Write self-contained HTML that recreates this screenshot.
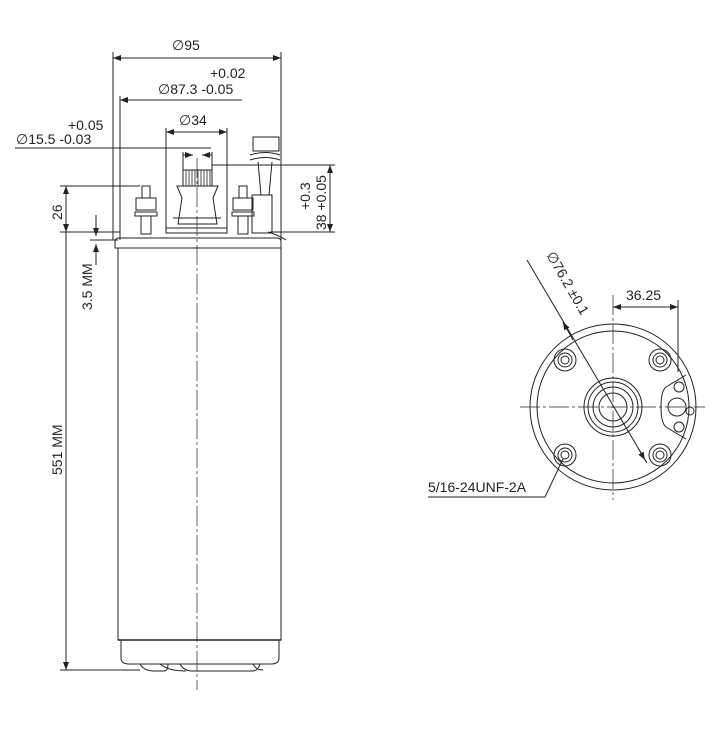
<!DOCTYPE html><html><head><style>body{margin:0;background:#fff}svg{display:block}text{font-family:"Liberation Sans",sans-serif;font-size:14px;fill:#222}</style></head><body>
<svg width="717" height="736" viewBox="0 0 717 736" xmlns="http://www.w3.org/2000/svg">
<defs><marker id="a" markerWidth="8" markerHeight="6" refX="8" refY="3" orient="auto-start-reverse"><path d="M0,0L8,3L0,6z" fill="#222"/></marker></defs>
<g stroke="#222" fill="none" stroke-width="1">
<line x1="113" y1="58" x2="281" y2="58" marker-start="url(#a)" marker-end="url(#a)"/>
<line x1="113" y1="52" x2="113" y2="240"/><line x1="281" y1="52" x2="281" y2="240"/>
<line x1="120" y1="100" x2="242" y2="100" marker-start="url(#a)"/><line x1="120" y1="96" x2="120" y2="240"/>
<line x1="15" y1="148" x2="211" y2="148"/>
<line x1="183" y1="152" x2="183" y2="170"/><line x1="212" y1="152" x2="212" y2="170"/>
<line x1="183" y1="155" x2="193" y2="155" marker-end="url(#a)"/><line x1="212" y1="155" x2="202" y2="155" marker-end="url(#a)"/>
<line x1="166" y1="132" x2="227" y2="132" marker-start="url(#a)" marker-end="url(#a)"/>
<line x1="166" y1="128" x2="166" y2="232"/><line x1="227" y1="128" x2="227" y2="232"/>
<line x1="212" y1="165" x2="335" y2="165"/><line x1="270" y1="232" x2="335" y2="232"/>
<line x1="330" y1="165" x2="330" y2="232" marker-start="url(#a)" marker-end="url(#a)"/>
<line x1="60" y1="186" x2="140" y2="186"/><line x1="60" y1="232" x2="120" y2="232"/>
<line x1="66" y1="186" x2="66" y2="232" marker-start="url(#a)" marker-end="url(#a)"/>
<line x1="66" y1="232" x2="66" y2="670" marker-end="url(#a)"/>
<line x1="60" y1="670" x2="140" y2="670"/>
<line x1="96" y1="215" x2="96" y2="236" marker-end="url(#a)"/><line x1="96" y1="244" x2="96" y2="265" marker-start="url(#a)"/>
<line x1="90" y1="240" x2="118" y2="240"/>
<line x1="197" y1="158" x2="197" y2="690" stroke-dasharray="20,3,3,3" stroke-width=".7"/>
<path d="M183 170h29v16h-29z"/>
<path d="M186 170v16M189 170v16M192 170v16M195 170v16M198 170v16M201 170v16M204 170v16M207 170v16M210 170v16" stroke-width=".8"/>
<path d="M177 186h41l-5 12 4 26h-39l4-26z"/>
<line x1="173" y1="218" x2="221" y2="218"/>
<rect x="166" y="228" width="61" height="5"/>
<g><rect x="142" y="186" width="8" height="12"/><rect x="136" y="198" width="20" height="12"/><rect x="135" y="212" width="22" height="4"/><rect x="141" y="216" width="10" height="18"/></g>
<g><rect x="239" y="186" width="8" height="12"/><rect x="233" y="198" width="20" height="12"/><rect x="232" y="212" width="22" height="4"/><rect x="238" y="216" width="10" height="18"/></g>
<rect x="253" y="137" width="26" height="14"/><path d="M250 155q15-5 30 0M250 160q15-5 30 0"/>
<path d="M258 162l3 33M272 162l-3 33"/><rect x="252" y="195" width="20" height="38"/>
<path d="M268 232q10 3 18 8"/>
<path d="M115 248v-6q0-4 4-4h158q4 0 4 4v6z"/>
<rect x="118" y="248" width="163" height="392"/>
<line x1="118" y1="640" x2="281" y2="640" stroke-width="1.5"/>
<path d="M121 640v18q0 6 8 6h142q8 0 8-6v-18"/>
<path d="M140 664q4 7 14 7h10q4 0 4-7M160 664q8 7 26 7M180 664q4 7 12 7h60q6 0 8-7M253 664q3 6 10 6"/>
</g>
<g stroke="#222" fill="none" stroke-width="1">
<line x1="520" y1="407" x2="705" y2="407" stroke-dasharray="20,3,3,3" stroke-width=".7"/>
<line x1="613" y1="295" x2="613" y2="500" stroke-dasharray="20,3,3,3" stroke-width=".7"/>
<circle cx="613" cy="407" r="83"/><circle cx="613" cy="407" r="76"/>
<circle cx="613" cy="407" r="29"/><circle cx="613" cy="407" r="25"/><circle cx="613" cy="407" r="20"/><circle cx="613" cy="407" r="14"/>
<g><circle cx="565" cy="360" r="11"/><circle cx="565" cy="360" r="7"/><circle cx="565" cy="360" r="4"/></g>
<g><circle cx="660" cy="360" r="11"/><circle cx="660" cy="360" r="7"/><circle cx="660" cy="360" r="4"/></g>
<g><circle cx="565" cy="455" r="11"/><circle cx="565" cy="455" r="7"/><circle cx="565" cy="455" r="4"/></g>
<g><circle cx="660" cy="455" r="11"/><circle cx="660" cy="455" r="7"/><circle cx="660" cy="455" r="4"/></g>
<path d="M686 375l-20 12q-5 4-5 20t5 20l20 12"/>
<circle cx="679" cy="387" r="5"/><circle cx="679" cy="427" r="5"/><circle cx="677" cy="407" r="9"/><circle cx="690" cy="411" r="4"/>
<line x1="613" y1="307" x2="678" y2="307" marker-start="url(#a)" marker-end="url(#a)"/>
<line x1="678" y1="300" x2="678" y2="372"/>
<line x1="527" y1="260" x2="647" y2="463"/>
<line x1="563" y1="322" x2="573" y2="340" marker-start="url(#a)"/>
<line x1="638" y1="448" x2="645" y2="460" marker-end="url(#a)"/>
<path d="M428 497h117l18-38"/>
</g>
<text x="172" y="50">∅95</text>
<text x="210" y="78">+0.02</text>
<text x="158" y="94">∅87.3 -0.05</text>
<text x="68" y="130">+0.05</text>
<text x="16" y="144">∅15.5 -0.03</text>
<text x="179" y="125">∅34</text>
<text transform="translate(62,220) rotate(-90)">26</text>
<text transform="translate(92,310) rotate(-90)">3.5 MM</text>
<text transform="translate(62,475) rotate(-90)">551 MM</text>
<text transform="translate(310,210) rotate(-90)">+0.3</text>
<text transform="translate(326,230) rotate(-90)">38 +0.05</text>
<text x="626" y="300">36.25</text>
<text transform="translate(546,255) rotate(60)">∅76.2 ±0.1</text>
<text x="428" y="492">5/16-24UNF-2A</text>
</svg></body></html>
